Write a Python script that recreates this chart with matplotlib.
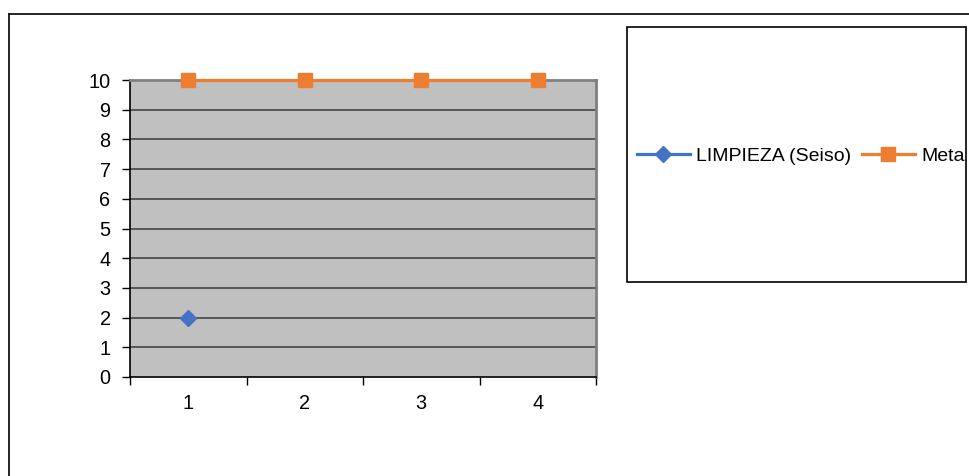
import matplotlib
matplotlib.use("Agg")
import matplotlib.pyplot as plt
import numpy as np
from matplotlib.patches import Rectangle

plt.rcParams['font.family'] = ['Liberation Sans', 'DejaVu Sans']

categories = ["1", "2", "3", "4"]
limpieza = [2, np.nan, np.nan, np.nan]
meta = [10, 10, 10, 10]
y_ticks = list(range(0, 11))

W, H = 969, 476
fig = plt.figure(figsize=(W / 100, H / 100), dpi=100)

# outer chart border (top and left edges visible)
fig.add_artist(plt.Line2D([9 / W, 1.0], [1 - 14 / H, 1 - 14 / H], color="black", lw=1.2,
                          transform=fig.transFigure))
fig.add_artist(plt.Line2D([9 / W, 9 / W], [0.0, 1 - 14 / H], color="black", lw=1.2,
                          transform=fig.transFigure))

left, right, top, bottom = 130, 596, 80, 377
ax = fig.add_axes([left / W, 1 - bottom / H, (right - left) / W, (bottom - top) / H])
ax.set_facecolor("#C0C0C0")

x = np.arange(1, len(categories) + 1)
ax.set_xlim(0.5, len(categories) + 0.5)
ax.set_ylim(0, 10)

for yv in y_ticks[1:-1]:
    ax.axhline(yv, color="#3a3a3a", lw=1.1, zorder=1)

l1, = ax.plot(x, limpieza, color="#4472C4", lw=2.3, marker="D", markersize=8.5,
              markerfacecolor="#4472C4", markeredgecolor="#4472C4", label="LIMPIEZA (Seiso)",
              zorder=3, clip_on=False)
l2, = ax.plot(x, meta, color="#ED7D31", lw=2.3, marker="s", markersize=10,
              markerfacecolor="#ED7D31", markeredgecolor="#ED7D31", label="Meta",
              zorder=3, clip_on=False)

ax.set_yticks(y_ticks)
ax.set_yticklabels([str(v) for v in y_ticks], fontsize=14.3)
ax.set_xticks(np.arange(0.5, len(categories) + 1, 1.0))
ax.set_xticklabels([])
ax.set_xticks(x, minor=True)
ax.set_xticklabels(categories, minor=True, fontsize=14.3)
ax.tick_params(axis="x", which="minor", length=0, pad=12)
ax.tick_params(axis="x", which="major", length=6, width=1, direction="out", color="black")
ax.tick_params(axis="y", length=6, width=1, direction="out", color="black", pad=8)

ax.spines["left"].set_color("black")
ax.spines["bottom"].set_color("black")
ax.spines["left"].set_linewidth(1.2)
ax.spines["bottom"].set_linewidth(1.2)
ax.spines["top"].set_color("#808080")
ax.spines["right"].set_color("#808080")
ax.spines["top"].set_linewidth(2)
ax.spines["right"].set_linewidth(2)

# legend box
lx0, lx1, ly0, ly1 = 627, 966, 27, 282
fig.add_artist(Rectangle((lx0 / W, 1 - ly1 / H), (lx1 - lx0) / W, (ly1 - ly0) / H,
                         transform=fig.transFigure, fill=False, edgecolor="black", lw=1.2))
fig.legend(handles=[l1, l2], loc="center left",
           bbox_to_anchor=(637 / W, 1 - 156 / H), ncol=2, frameon=False, fontsize=14,
           handlelength=2.7, handletextpad=0.35, columnspacing=0.55, borderaxespad=0,
           borderpad=0)

fig.savefig("out.png", dpi=100)
